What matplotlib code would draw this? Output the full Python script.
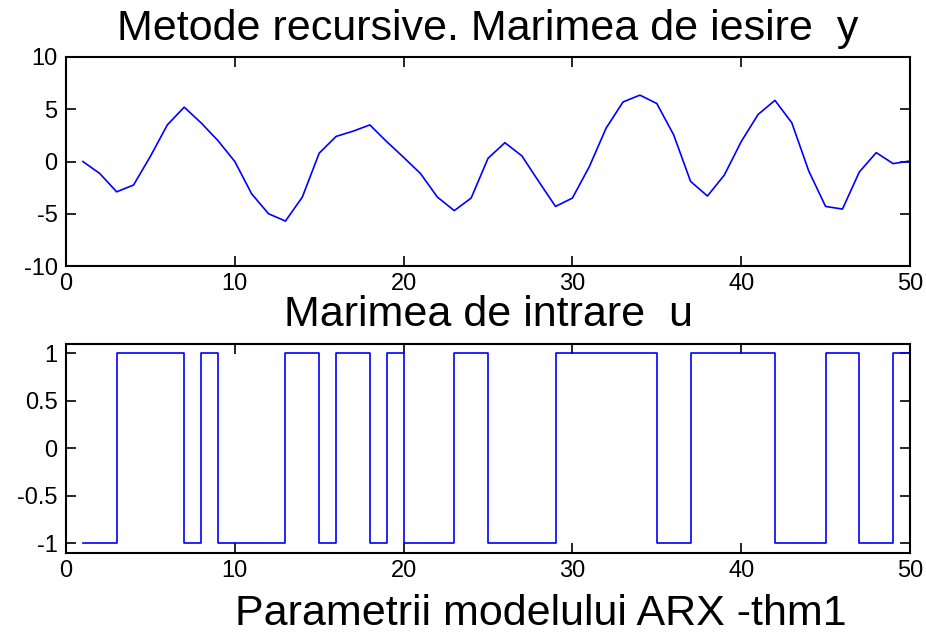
import matplotlib
matplotlib.use("Agg")
import matplotlib.pyplot as plt
import numpy as np

# ── Data ──────────────────────────────────────────────────────────────────────
k = np.arange(1, 51)

y_out = [0.0, -1.15, -2.9, -2.25, 0.5, 3.5, 5.2, 3.7, 2.0, 0.0,
         -3.1, -5.0, -5.7, -3.4, 0.8, 2.4, 2.9, 3.5, 1.9, 0.4,
         -1.15, -3.4, -4.7, -3.5, 0.3, 1.8, 0.55, -1.9, -4.3, -3.5,
         -0.5, 3.2, 5.7, 6.35, 5.55, 2.55, -1.9, -3.3, -1.3, 1.9,
         4.5, 5.85, 3.7, -0.9, -4.3, -4.55, -1.0, 0.85, -0.2, 0.05]

u_in = [-1, -1, 1, 1, 1, 1, -1, 1, -1, -1,
        -1, -1, 1, 1, -1, 1, 1, -1, 1, -1,
        -1, -1, 1, 1, -1, -1, -1, -1, 1, 1,
        1, 1, 1, 1, -1, -1, 1, 1, 1, 1,
        1, -1, -1, -1, 1, 1, -1, -1, 1, 1]

title_top = "Metode recursive. Marimea de iesire  y"
title_bot = "Marimea de intrare  u"
title_cut = "Parametrii modelului ARX -thm1"

plt.rcParams["font.family"] = ["Liberation Sans", "DejaVu Sans"]
plt.rcParams["axes.unicode_minus"] = False

fig = plt.figure(figsize=(9.26, 6.34), dpi=100)
ax1 = fig.add_axes([0.0713, 0.5804, 0.9114, 0.3297])
ax2 = fig.add_axes([0.0713, 0.1278, 0.9114, 0.3297])

ax1.plot(k, y_out, color="#0000ff", lw=1.2)
ax1.set_xlim(0, 50)
ax1.set_ylim(-10, 10)
ax1.set_yticks([-10, -5, 0, 5, 10])
ax1.set_title(title_top, fontsize=31, pad=12)

ax2.step(k, u_in, where="post", color="#0000ff", lw=1.2)
ax2.set_xlim(0, 50)
ax2.set_ylim(-1.1, 1.1)
ax2.set_yticks([-1, -0.5, 0, 0.5, 1])
ax2.set_yticklabels(["-1", "-0.5", "0", "0.5", "1"])
ax2.set_title(title_bot, fontsize=31, pad=13)

for ax in (ax1, ax2):
    ax.set_xticks([0, 10, 20, 30, 40, 50])
    ax.tick_params(direction="in", length=7, width=1.2, top=True, right=True,
                   labelsize=17, pad=5)
    ax.tick_params(axis="y", pad=6)
    for s in ax.spines.values():
        s.set_linewidth(1.5)

# title of the next subplot, which sits at the bottom edge of the figure
fig.text(0.584, 0.0, title_cut, ha="center", va="bottom", fontsize=31)

fig.savefig("out.png", dpi=100)
